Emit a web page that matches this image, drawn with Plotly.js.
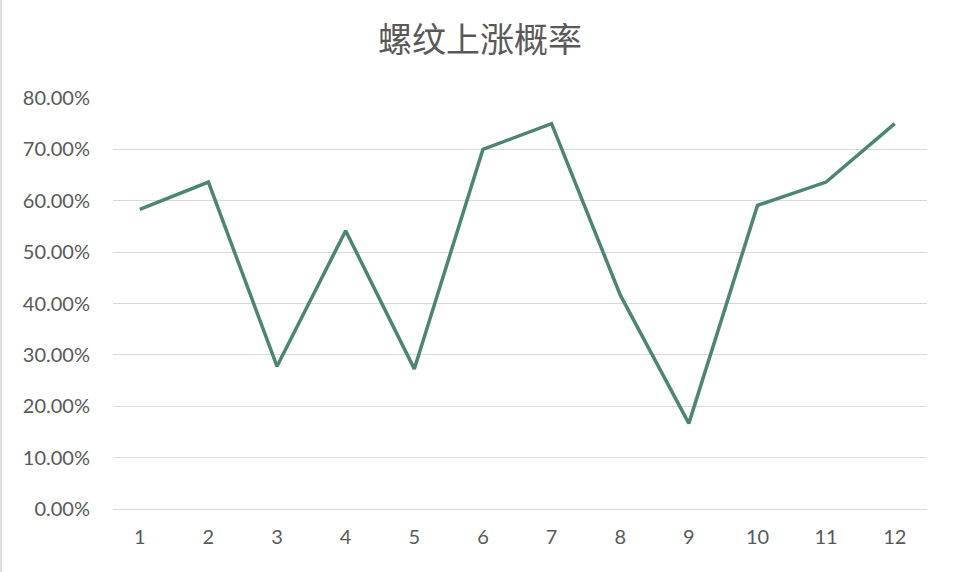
<!DOCTYPE html>
<html>
<head>
<meta charset="utf-8">
<script src="https://cdn.plot.ly/plotly-3.0.1.min.js"></script>
<style>
  html, body { margin: 0; padding: 0; background: #fff; }
  #chart { width: 960px; height: 572px; }
</style>
</head>
<body>
<div id="chart"></div>
<script>
// months 1..12, probability of rebar price rising
const months = ['1','2','3','4','5','6','7','8','9','10','11','12'];
const upProb = [0.5833, 0.6364, 0.2778, 0.5417, 0.2727, 0.7000, 0.7500, 0.4167, 0.1667, 0.5909, 0.6364, 0.7500];
const yTicks = [0, 0.1, 0.2, 0.3, 0.4, 0.5, 0.6, 0.7, 0.8];

const trace = {
  x: months, y: upProb, type: 'scatter', mode: 'lines',
  line: { color: '#4d8670', width: 3.5 },
  hoverinfo: 'x+y'
};

const plotW = 960 - 113 - 33;

const layout = {
  width: 960, height: 572,
  margin: { t: 98, b: 63, l: 113, r: 33 },
  paper_bgcolor: 'white',
  plot_bgcolor: 'white',
  title: {
    text: '螺纹上涨概率',
    x: 0.5, xanchor: 'center', y: 0.93, yanchor: 'middle',
    font: { family: 'Noto Sans CJK SC', size: 34, color: '#595959' }
  },
  font: { family: 'Lato, "Open Sans", sans-serif', color: '#595959', size: 20 },
  xaxis: {
    type: 'category',
    range: [-0.39, 11.47],
    showgrid: false, zeroline: false, showline: false,
    ticks: '', ticklabelstandoff: 14,
    tickfont: { size: 20, color: '#595959' }
  },
  yaxis: {
    range: [0, 0.8],
    tickvals: yTicks,
    tickformat: '.2%',
    showgrid: true, gridcolor: '#d9d9d9', gridwidth: 1,
    zeroline: true, zerolinecolor: '#d9d9d9', zerolinewidth: 1,
    showline: false, ticks: '', ticklabelstandoff: 22,
    tickfont: { size: 20, color: '#595959' }
  },
  shapes: [{
    type: 'line', xref: 'paper', yref: 'paper',
    x0: -112 / plotW, x1: -112 / plotW, y0: -63 / 411, y1: 1 + 98 / 411,
    line: { color: '#d0d0d0', width: 1.5 }
  }],
  showlegend: false
};

Plotly.newPlot('chart', [trace], layout, { displayModeBar: false });
</script>
</body>
</html>
